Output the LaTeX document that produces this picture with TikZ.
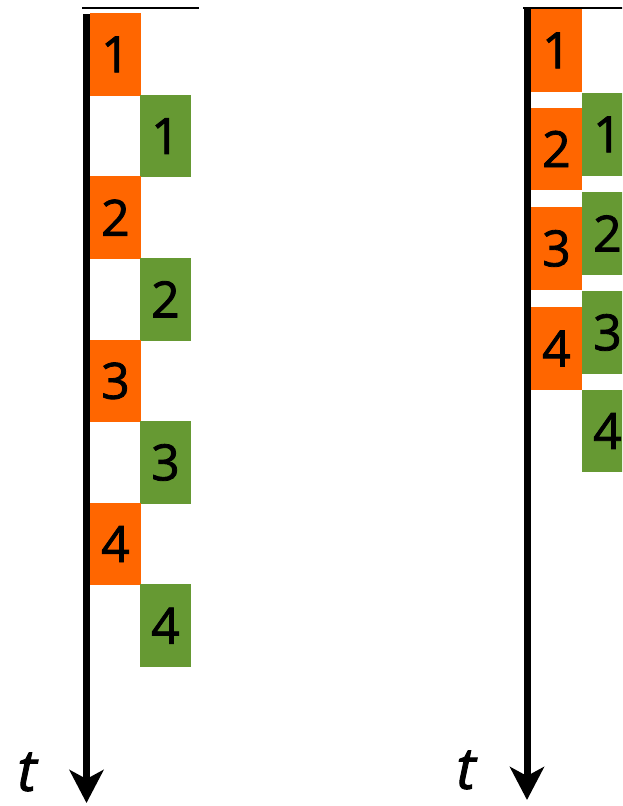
\documentclass[tikz,border=0pt]{standalone}
\usepackage{fontspec}
\setmainfont{Open Sans}
\newfontfamily\slotfont[FakeBold=1.6]{Open Sans}
\newfontfamily\tfont[FakeBold=1.6,ItalicFeatures={FakeBold=1.6}]{Open Sans}
\usetikzlibrary{arrows.meta}
\definecolor{sendorange}{RGB}{255,102,0}
\definecolor{recvgreen}{RGB}{102,153,51}

\begin{document}
\begin{tikzpicture}[
  x=1pt, y=-1pt,
  slot/.style={anchor=north west, inner sep=0pt, minimum width=50.5pt,
               minimum height=82.5pt, font=\slotfont\fontsize{50}{50}\selectfont},
  req/.style={slot, fill=sendorange},
  resp/.style={slot, fill=recvgreen},
  timeline/.style={line width=7pt, -{Stealth[length=33pt, width=34pt, inset=9pt]}},
  tlabel/.style={font=\tfont\fontsize{58}{58}\selectfont\itshape, inner sep=0pt}
]
\clip (0,0) rectangle (622,806);

% one after another
\node[req]  (lreq1)  at (90,13)    {1};
\node[resp] (lresp1) at (140,94.6) {1};
\node[req]  (lreq2)  at (90,176.2) {2};
\node[resp] (lresp2) at (140,257.8) {2};
\node[req]  (lreq3)  at (90,339.4) {3};
\node[resp] (lresp3) at (140,421)  {3};
\node[req]  (lreq4)  at (90,502.6) {4};
\node[resp] (lresp4) at (140,584.2) {4};

\coordinate (lbar0) at (82,8);
\coordinate (lbar1) at (199,8);
\coordinate (ltop)  at (86.5,14);
\coordinate (lend)  at (86.5,803);
\draw[line width=2pt] (lbar0) -- (lbar1);
\draw[timeline] (ltop) -- (lend);
\node[tlabel] (lt) at (27,772) {t};

% overlapped
\node[req]  (rreq1)  at (531,9)     {1};
\node[req]  (rreq2)  at (531,107.5) {2};
\node[req]  (rreq3)  at (531,207)   {3};
\node[req]  (rreq4)  at (531,307)   {4};
\node[resp] (rresp1) at (582,93)    {1};
\node[resp] (rresp2) at (582,192)   {2};
\node[resp] (rresp3) at (582,291)   {3};
\node[resp] (rresp4) at (582,389.5) {4};

\coordinate (rbar0) at (523,8);
\coordinate (rbar1) at (630,8);
\coordinate (rtop)  at (527,7);
\coordinate (rend)  at (527,800);
\draw[line width=2pt] (rbar0) -- (rbar1);
\draw[timeline] (rtop) -- (rend);
\node[tlabel] (rt) at (466,770) {t};
\end{tikzpicture}
\end{document}
